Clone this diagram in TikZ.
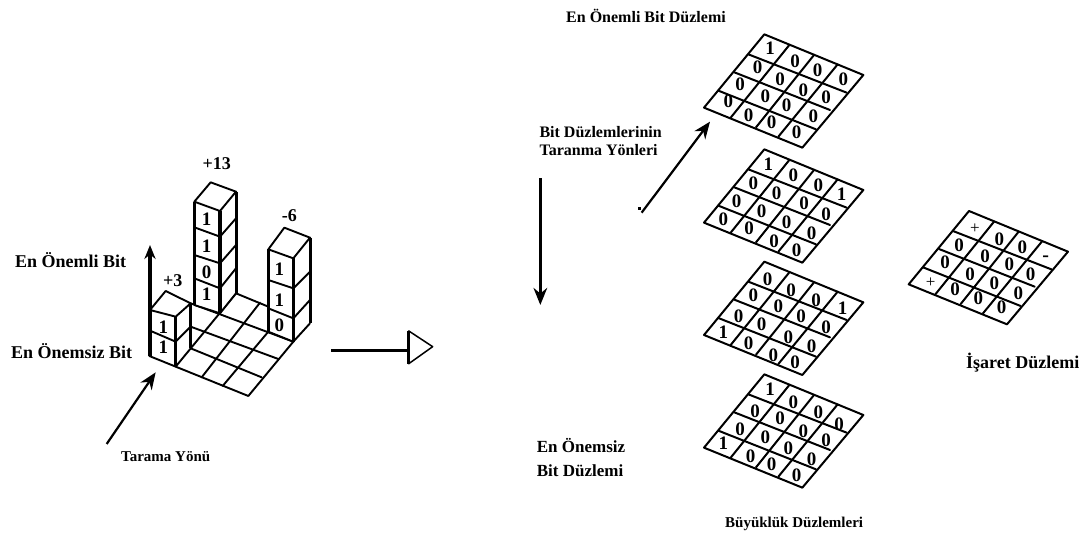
\documentclass[tikz,border=0pt]{standalone}
\usepackage{fontspec}
\setmainfont{Liberation Serif}
\usetikzlibrary{arrows.meta}
\newcommand{\lbfont}[1]{\fontsize{#1}{#1}\selectfont\bfseries}
\tikzset{
  thinline/.style={line width=1.9pt,line cap=round,line join=round},
  thickline/.style={line width=3pt,line cap=butt},
  gridline/.style={line width=2pt,line cap=round,line join=round},
  digit/.style={inner sep=0pt,font=\lbfont{19}},
  signmark/.style={inner sep=0pt,font=\fontsize{17}{17}\selectfont},
  lab/.style={inner sep=0pt,anchor=base west,font=\lbfont{#1}},
  lab/.default=16,
  headarrow/.style={-{Stealth[length=#1pt,width=#1pt*0.8]}}
}
\newcommand{\planegrid}{%
  \draw[gridline] (223,43)--(520,165)--(337,383)--(42,263)--cycle;
  \draw[gridline] (175,103)--(470,218) (133,157)--(420,270) (85,212)--(378,328);
  \draw[gridline] (298,75)--(122,293) (372,105)--(198,322) (443,133)--(265,350);
}
\begin{document}
\begin{tikzpicture}[x=1pt,y=-1pt]
\useasboundingbox (0,0) rectangle (1086,540);
% ---- left: stacks
\begin{scope}[shift={(0,140)},x=0.33333pt,y=-0.33333pt]
  % floor
  \draw[thinline] (448,648)--(745,768)--(880,605);
  \draw[thinline] (572,490)--(880,605);
  \draw[thinline] (572,560)--(835,657);
  \draw[thinline] (572,625)--(785,712);
  \draw[thinline] (527,680)--(708,460)--(805,500);
  \draw[thinline] (605,712)--(780,488);
  \draw[thinline] (668,738)--(805,575);
  % +3 stack
  \draw[thinline] (450,510)--(497,453)--(572,490)--(527,530)--cycle;
  \draw[thinline] (450,572)--(527,605)--(572,560);
  \draw[thickline] (450,510)--(450,648) (527,530)--(527,680) (572,490)--(572,625);
  % +13 stack (white faces hide the floor)
  \fill[white] (583,185)--(660,213)--(708,155)--(708,460)--(660,520)--(583,495)--cycle;
  \draw[thinline] (583,185)--(632,127)--(708,155)--(660,213)--cycle;
  \draw[thinline] (583,262)--(660,290)--(708,235) (583,345)--(660,370)--(708,315) (583,415)--(660,445)--(708,385);
  \draw[thinline] (583,495)--(660,520)--(708,460);
  \draw[thickline] (583,185)--(583,495) (660,213)--(660,520) (708,155)--(708,460);
  % -6 stack
  \fill[white] (805,328)--(880,355)--(930,293)--(930,550)--(880,605)--(805,575)--cycle;
  \draw[thinline] (805,328)--(853,263)--(930,293)--(880,355)--cycle;
  \draw[thinline] (805,420)--(880,445)--(930,395) (805,505)--(880,535)--(930,480);
  \draw[thinline] (805,575)--(880,605)--(930,550);
  \draw[thickline] (805,328)--(805,575) (880,355)--(880,605) (930,293)--(930,550);
  % digits
  \foreach \px/\py/\t [count=\i] in {620/237/1,620/318/1,620/398/0,620/462/1,838/388/1,838/480/1,838/555/0,490/563/1,490/622/1}
    \node[digit] (s\i) at (\px,\py) {\t};
  \node[lab=18,anchor=center] (top13) at (650,72) {+13};
  \node[lab=18,anchor=center] (top6) at (868,228) {-6};
  \node[lab=18,anchor=center] (top3) at (518,422) {+3};
  \node[lab=18,anchor=center] (msb) at (212,360) {En Önemli Bit};
  \node[lab=18,anchor=center] (lsb) at (215,632) {En Önemsiz Bit};
  \node[lab=15,anchor=center] (scan) at (497,950) {Tarama Yönü};
  \coordinate (upa) at (450,510);
  \coordinate (upb) at (450,315);
  \draw[line width=3pt,headarrow=14] (upa)--(upb);
  \coordinate (sca) at (320,912);
  \coordinate (scb) at (467,697);
  \draw[line width=2.2pt,headarrow=17] (sca)--(scb);
\end{scope}
% ---- hollow arrow
\begin{scope}[shift={(320,310)},x=0.33333pt,y=-0.33333pt]
  \coordinate (ha) at (33,121);
  \coordinate (hb) at (265,121);
  \draw[line width=3pt] (ha)--(hb);
  \draw[line width=1.5pt,line join=round] (265,62)--(338,110)--(265,162);
  \draw[line width=3pt] (265,62)--(265,162);
\end{scope}
% ---- scan arrows
\begin{scope}[shift={(520,90)},x=0.33333pt,y=-0.33333pt]
  \node[lab] (bit) at (58,142) {Bit Düzlemlerinin};
  \node[lab] (tar) at (58,197) {Taranma Yönleri};
  \coordinate (da) at (61,265);
  \coordinate (db) at (61,645);
  \draw[line width=2.8pt,headarrow=17] (da)--(db);
  \coordinate (ea) at (365,368);
  \coordinate (eb) at (570,95);
  \draw[line width=2.2pt,headarrow=17] (ea)--(eb);
  \fill (354,351) rectangle (362,361);
\end{scope}
% ---- magnitude planes
\begin{scope}[shift={(690,20)},x=0.33333pt,y=-0.33333pt]
  \planegrid
  \foreach \px/\py/\t [count=\i] in {240/85/1,315/125/0,383/152/0,460/177/0,203/143/0,270/177/0,340/210/0,408/233/0,150/193/0,226/228/0,290/257/0,370/288/0,115/245/0,176/285/0,245/308/0,320/337/0}
    \node[digit] (a\i) at (\px,\py) {\t};
  \begin{scope}[shift={(0,345)}]\planegrid\end{scope}
  \foreach \px/\py/\t [count=\i] in {235/432/1,310/465/0,385/497/0,455/522/1,190/490/0,260/520/0,342/550/0,408/583/0,140/545/0,215/575/0,290/607/0,365/640/0,100/597/0,177/625/0,252/665/0,320/690/0}
    \node[digit] (b\i) at (\px,\py) {\t};
\end{scope}
\begin{scope}[shift={(690,260)},x=0.33333pt,y=-0.33333pt]
  \begin{scope}[shift={(0,-38)}]\planegrid\end{scope}
  \foreach \px/\py/\t [count=\i] in {233/58/0,303/90/0,378/120/0,458/145/1,190/105/0,265/140/0,333/170/0,408/203/0,146/170/0,215/193/0,295/232/0,365/258/0,100/217/1,176/250/0,250/287/0,315/308/0}
    \node[digit] (c\i) at (\px,\py) {\t};
  \begin{scope}[shift={(0,300)}]\planegrid\end{scope}
  \foreach \px/\py/\t [count=\i] in {240/388/1,310/428/0,385/458/0,447/492/0,195/453/0,270/475/0,340/515/0,408/540/0,150/507/0,226/533/0,295/565/0,365/597/0,100/550/1,182/590/0,245/612/0,320/647/0}
    \node[digit] (f\i) at (\px,\py) {\t};
\end{scope}
% ---- sign plane
\begin{scope}[shift={(890,200)},x=0.33333pt,y=-0.33333pt]
  \begin{scope}[shift={(14,-10)}]\planegrid\end{scope}
  \foreach \px/\py/\t [count=\i] in {328/118/0,397/142/0,207/137/0,285/170/0,358/192/0,422/222/0,165/187/0,240/222/0,313/250/0,385/280/0,195/268/0,265/295/0,335/322/0}
    \node[digit] (g\i) at (\px,\py) {\t};
  \node[signmark] (p1) at (255,85) {+};
  \node[signmark] (p2) at (122,248) {+};
  \node[lab=20,anchor=center] (m1) at (467,175) {-};
  \node[lab=18] (sign) at (228,505) {İşaret Düzlemi};
\end{scope}
% ---- captions
\node[lab=16] (topcap) at (566,23) {En Önemli Bit Düzlemi};
\node[lab=17] (e1) at (536.7,452.3) {En Önemsiz};
\node[lab=17] (e2) at (536.7,476) {Bit Düzlemi};
\node[lab=15] (mag) at (725,527.7) {Büyüklük Düzlemleri};
\end{tikzpicture}
\end{document}
